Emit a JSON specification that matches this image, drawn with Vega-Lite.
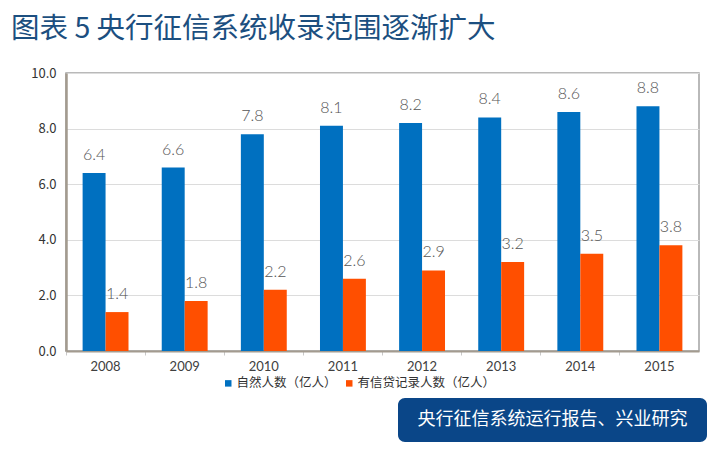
{
  "$schema": "https://vega.github.io/schema/vega-lite/v6.json",
  "background": "white",
  "padding": {"left": 10, "top": 14, "right": 0, "bottom": 0},
  "title": {
    "text": "图表 5 央行征信系统收录范围逐渐扩大",
    "anchor": "start",
    "font": "Noto Sans CJK SC",
    "fontSize": 28.5,
    "fontWeight": "normal",
    "color": "#1c4f80",
    "offset": 23,
    "dx": -19
  },
  "spacing": 7,
  "resolve": {"legend": {"color": "independent"}},
  "vconcat": [
    {
      "width": 633,
      "height": 278,
      "data": {
        "values": [
          {"year": "2008", "series": "自然人数（亿人）", "value": 6.4},
          {"year": "2009", "series": "自然人数（亿人）", "value": 6.6},
          {"year": "2010", "series": "自然人数（亿人）", "value": 7.8},
          {"year": "2011", "series": "自然人数（亿人）", "value": 8.1},
          {"year": "2012", "series": "自然人数（亿人）", "value": 8.2},
          {"year": "2013", "series": "自然人数（亿人）", "value": 8.4},
          {"year": "2014", "series": "自然人数（亿人）", "value": 8.6},
          {"year": "2015", "series": "自然人数（亿人）", "value": 8.8},
          {"year": "2008", "series": "有信贷记录人数（亿人）", "value": 1.4},
          {"year": "2009", "series": "有信贷记录人数（亿人）", "value": 1.8},
          {"year": "2010", "series": "有信贷记录人数（亿人）", "value": 2.2},
          {"year": "2011", "series": "有信贷记录人数（亿人）", "value": 2.6},
          {"year": "2012", "series": "有信贷记录人数（亿人）", "value": 2.9},
          {"year": "2013", "series": "有信贷记录人数（亿人）", "value": 3.2},
          {"year": "2014", "series": "有信贷记录人数（亿人）", "value": 3.5},
          {"year": "2015", "series": "有信贷记录人数（亿人）", "value": 3.8}
        ]
      },
      "view": {"stroke": "#a3a3a3", "strokeWidth": 1.5},
      "encoding": {
        "x": {
          "field": "year",
          "type": "nominal",
          "scale": {"paddingInner": 0.42, "paddingOuter": 0.21},
          "axis": {
            "title": null,
            "labelAngle": 0,
            "labelFont": "Lato",
            "labelFontSize": 13,
            "labelColor": "#404040",
            "labelPadding": 5,
            "domainColor": "#a39b8f",
            "domainWidth": 2,
            "ticks": true,
            "tickColor": "#c8c8c8",
            "tickSize": 4,
            "bandPosition": -0.362
          }
        },
        "xOffset": {
          "field": "series",
          "type": "nominal",
          "sort": ["自然人数（亿人）", "有信贷记录人数（亿人）"]
        },
        "y": {
          "field": "value",
          "type": "quantitative",
          "scale": {"domain": [0, 10]},
          "axis": {
            "title": null,
            "values": [0, 2, 4, 6, 8, 10],
            "format": ".1f",
            "labelFont": "Noto Sans CJK SC",
            "labelFontSize": 13,
            "labelColor": "#333333",
            "labelPadding": 10,
            "ticks": false,
            "domainColor": "#a39b8f",
            "domainWidth": 2.5,
            "gridColor": "#dcdcdc",
            "gridWidth": 1
          }
        }
      },
      "layer": [
        {
          "mark": {"type": "bar"},
          "encoding": {
            "color": {
              "field": "series",
              "type": "nominal",
              "sort": ["自然人数（亿人）", "有信贷记录人数（亿人）"],
              "scale": {"range": ["#0070c0", "#ff4f00"]},
              "legend": {
                "title": null,
                "orient": "none",
                "legendX": 156,
                "legendY": 304,
                "direction": "horizontal",
                "symbolType": "square",
                "symbolSize": 42,
                "symbolStrokeWidth": 0,
                "labelFont": "Noto Sans CJK SC",
                "labelFontSize": 12.5,
                "labelColor": "#333333",
                "labelOffset": 2,
                "columnPadding": 6
              }
            }
          }
        },
        {
          "mark": {
            "type": "text",
            "baseline": "middle",
            "dy": -18,
            "font": "Lato",
            "fontSize": 16,
            "fontWeight": 300,
            "color": "#555555"
          },
          "encoding": {
            "text": {"field": "value", "type": "quantitative", "format": ".1f"}
          }
        }
      ]
    },
    {
      "spacing": 0,
      "hconcat": [
        {
          "width": 332,
          "height": 44,
          "data": {"values": []},
          "mark": "text",
          "view": {"stroke": null}
        },
        {
          "width": 309,
          "height": 44,
          "data": {"values": [{"source": "央行征信系统运行报告、兴业研究"}]},
          "view": {"stroke": null, "fill": "#0a4688", "cornerRadius": 7},
          "mark": {
            "type": "text",
            "font": "Noto Sans CJK SC",
            "fontSize": 18,
            "color": "white",
            "baseline": "middle",
            "align": "center"
          },
          "encoding": {"text": {"field": "source", "type": "nominal"}}
        }
      ]
    }
  ]
}
